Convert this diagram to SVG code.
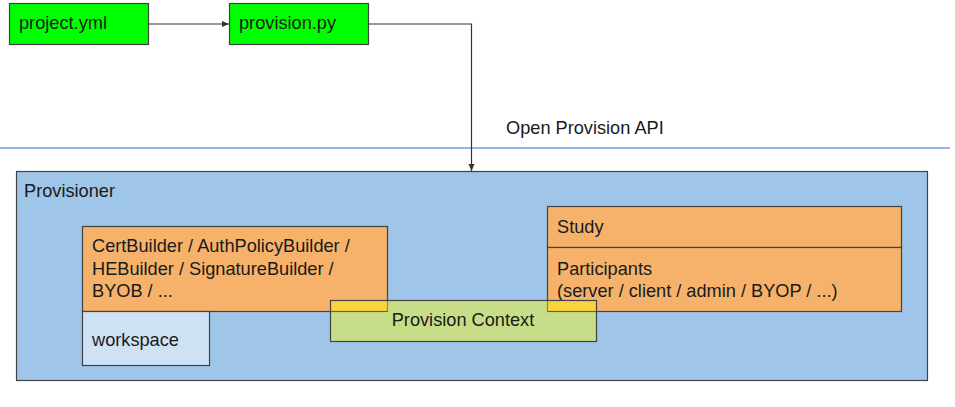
<svg xmlns="http://www.w3.org/2000/svg" width="955" height="407" viewBox="0 0 955 407">
<defs>
<marker id="arr" markerWidth="8" markerHeight="8" refX="7" refY="4" orient="auto" markerUnits="userSpaceOnUse">
<path d="M0,1 L7,4 L0,7 Z" fill="#333333"/>
</marker>
<style>
text{font-family:"Liberation Sans",Arial,sans-serif;font-size:18.2px;fill:#1a1a1a}
.b{stroke:#434343;stroke-width:1.2}
.c{fill:none;stroke:#333333;stroke-width:1.2}
</style>
</defs>
<rect width="955" height="407" fill="#ffffff"/>
<line x1="0" y1="148" x2="950" y2="148" stroke="#6d9eeb" stroke-width="1.5"/>
<text x="506" y="134">Open Provision API</text>
<g id="provisioner">
<rect class="b" x="16.5" y="171.5" width="911" height="209" fill="#9fc5e8"/>
<text x="24" y="197">Provisioner</text>
</g>
<g id="builders">
<rect class="b" x="82.5" y="226.5" width="305" height="85" fill="#f6b26b"/>
<text x="92" y="252">CertBuilder / AuthPolicyBuilder /</text>
<text x="92" y="275">HEBuilder / SignatureBuilder /</text>
<text x="92" y="297">BYOB / ...</text>
</g>
<g id="workspace">
<rect class="b" x="82.5" y="311.5" width="127" height="54" fill="#cfe2f3"/>
<text x="92" y="346">workspace</text>
</g>
<g id="study">
<rect class="b" x="547.5" y="206.5" width="354" height="41" fill="#f6b26b"/>
<text x="557" y="233">Study</text>
</g>
<g id="participants">
<rect class="b" x="547.5" y="247.5" width="354" height="64" fill="#f6b26b"/>
<text x="557" y="275">Participants</text>
<text x="557" y="297">(server / client / admin / BYOP / ...)</text>
</g>
<g id="context">
<rect x="330.5" y="300.5" width="266" height="41" fill="#ffff00" fill-opacity="0.42" stroke="#434343" stroke-width="1.2"/>
<line x1="330.5" y1="311.5" x2="387.5" y2="311.5" stroke="#434343" stroke-width="1" stroke-opacity="0.6"/>
<line x1="547.5" y1="311.5" x2="596.5" y2="311.5" stroke="#434343" stroke-width="1" stroke-opacity="0.6"/>
<text x="463" y="326" text-anchor="middle">Provision Context</text>
</g>
<g id="project">
<rect class="b" x="9.5" y="3.5" width="139" height="41" fill="#00ff00"/>
<text x="19" y="29">project.yml</text>
</g>
<g id="provision">
<rect class="b" x="229.5" y="3.5" width="139" height="41" fill="#00ff00"/>
<text x="239" y="29">provision.py</text>
</g>
<g id="connectors">
<line class="c" x1="148.5" y1="24" x2="229" y2="24" marker-end="url(#arr)"/>
<path class="c" d="M368.5,24 H471.5 V171" marker-end="url(#arr)"/>
</g>
</svg>
